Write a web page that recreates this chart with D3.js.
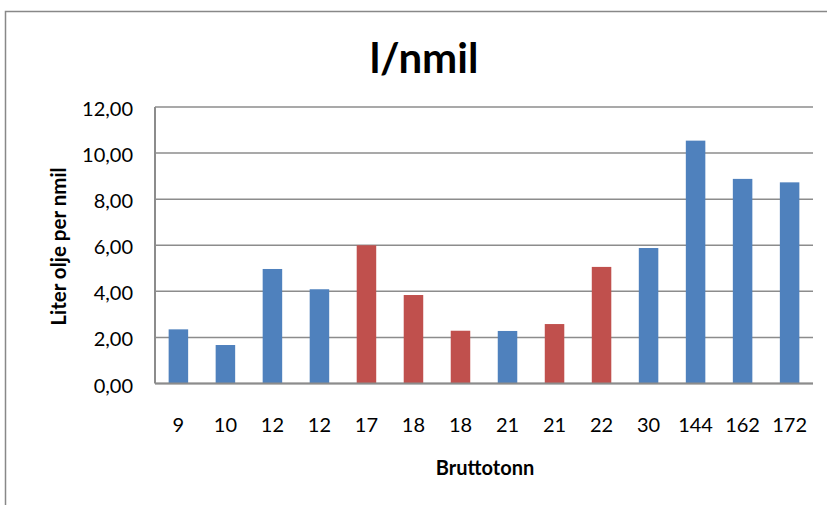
<!DOCTYPE html>
<html><head><meta charset="utf-8">
<script src="https://cdn.jsdelivr.net/npm/d3@7"></script>
<style>body{margin:0;background:#fff}svg{display:block}</style>
</head><body>
<script>
const categories = ["9","10","12","12","17","18","18","21","21","22","30","144","162","172"];
const values = [2.35,1.67,4.97,4.09,6.0,3.84,2.29,2.28,2.58,5.06,5.88,10.54,8.88,8.73];
const groups = ["b","b","b","b","r","r","r","b","r","r","b","b","b","b"];
const yTicks = [0,2,4,6,8,10,12];
const colors = {b:"#4F81BD", r:"#C0504D"};

const W=827,H=505;
const svg=d3.select("body").append("svg").attr("width",W).attr("height",H);
svg.append("rect").attr("x",5.5).attr("y",11.5).attr("width",W).attr("height",H).attr("fill","#fff").attr("stroke","#888").attr("stroke-width",1.5);

const m={l:155,r:813,t:107,b:383.5};
const x=d3.scaleBand().domain(d3.range(categories.length)).range([m.l,m.r]).paddingInner(0.585).paddingOuter(0.29);
const y=d3.scaleLinear().domain([0,12]).range([m.b,m.t]);
const font="Lato, 'Open Sans', sans-serif";

svg.append("g").selectAll("line").data(yTicks).join("line")
  .attr("x1",m.l).attr("x2",m.r).attr("y1",d=>y(d)).attr("y2",d=>y(d))
  .attr("stroke","#8c8c8c").attr("stroke-width",1.5);

svg.append("g").selectAll("rect").data(values).join("rect")
  .attr("x",(d,i)=>x(i)).attr("width",x.bandwidth())
  .attr("y",d=>y(d)).attr("height",d=>y(0)-y(d))
  .attr("fill",(d,i)=>colors[groups[i]]);

svg.append("line").attr("x1",m.l).attr("x2",m.l).attr("y1",m.t).attr("y2",m.b).attr("stroke","#8c8c8c").attr("stroke-width",2);
svg.append("line").attr("x1",m.l).attr("x2",m.r).attr("y1",m.b).attr("y2",m.b).attr("stroke","#8c8c8c").attr("stroke-width",2);

const fmt=d=>d3.format(".2f")(d).replace(".",",");
svg.append("g").selectAll("text").data(yTicks).join("text")
  .attr("x",133).attr("y",d=>y(d)+2).attr("dy","0.35em").attr("text-anchor","end")
  .attr("font-family",font).attr("font-size",20).attr("fill","#000").text(fmt);

svg.append("g").selectAll("text").data(categories).join("text")
  .attr("x",(d,i)=>x(i)+x.bandwidth()/2).attr("y",425).attr("dy","0.35em").attr("text-anchor","middle")
  .attr("font-family",font).attr("font-size",20).attr("fill","#000").text(d=>d);

svg.append("text").attr("x",485).attr("y",475).attr("text-anchor","middle")
  .attr("font-family",font).attr("font-size",20).attr("font-weight","bold").text("Bruttotonn");

svg.append("text").attr("transform","translate(66,246.5) rotate(-90)").attr("text-anchor","middle")
  .attr("font-family",font).attr("font-size",20.5).attr("font-weight","bold").text("Liter olje per nmil");

svg.append("text").attr("x",424).attr("y",73).attr("text-anchor","middle")
  .attr("font-family",font).attr("font-size",42).attr("font-weight","bold").text("l/nmil");
</script>
</body></html>
